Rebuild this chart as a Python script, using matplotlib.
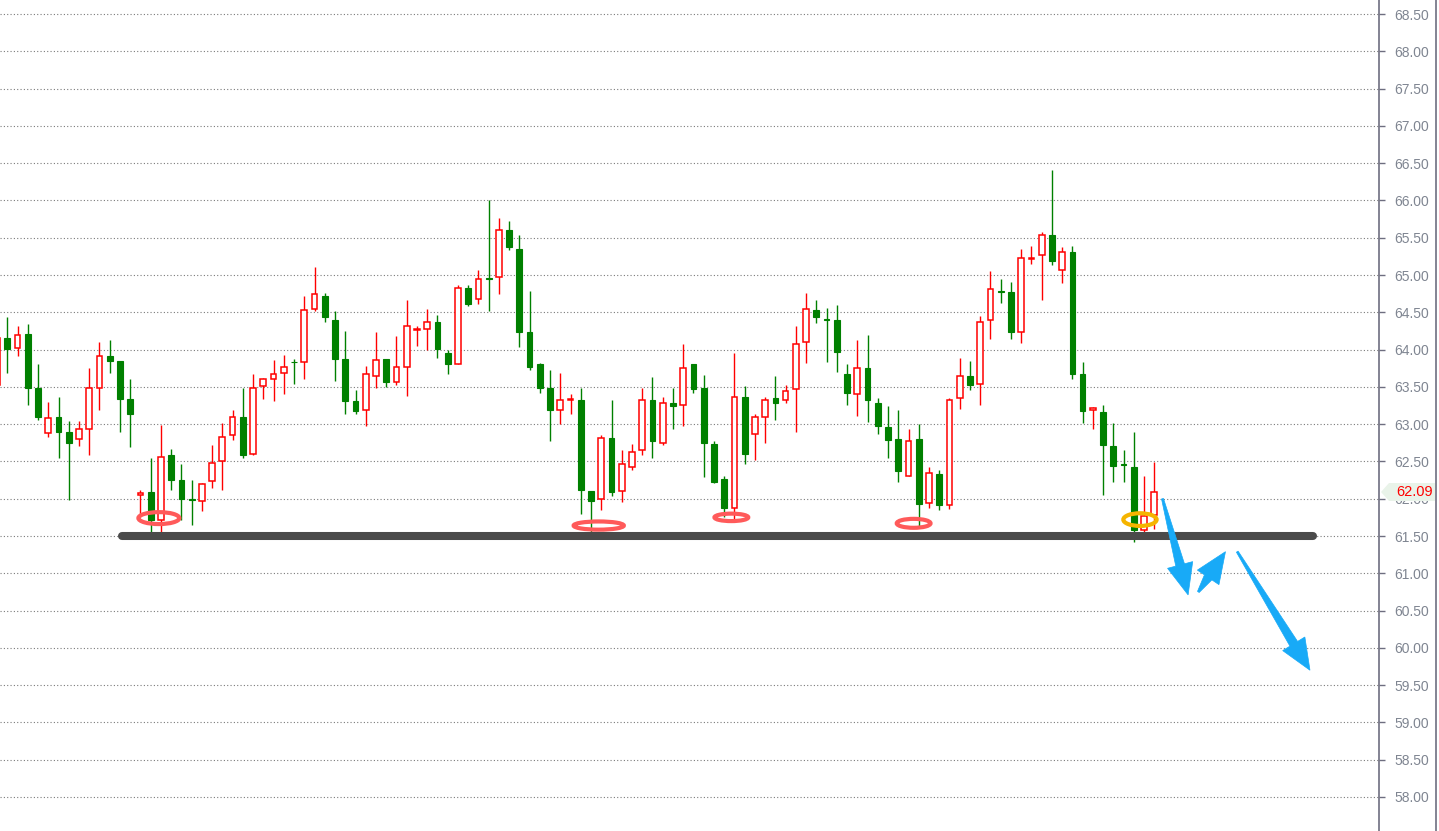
import numpy as np
import matplotlib
matplotlib.use("Agg")
import matplotlib.pyplot as plt
from matplotlib.patches import Ellipse, Polygon

# daily candles
opens = [63.52, 64.16, 64.02, 64.21, 63.49, 62.88, 63.10, 62.90, 62.80, 62.94,
         63.48, 63.91, 63.85, 63.34, 62.05, 62.09, 61.71, 62.59, 62.25, 61.99,
         61.97, 62.24, 62.50, 62.86, 63.10, 62.60, 63.51, 63.61, 63.68, 63.84,
         63.84, 64.54, 64.72, 64.40, 63.87, 63.31, 63.19, 63.65, 63.87, 63.56,
         63.76, 64.26, 64.28, 64.37, 63.96, 63.81, 64.82, 64.68, 64.96, 64.98,
         65.61, 65.35, 64.23, 63.81, 63.48, 63.19, 63.32, 63.33, 62.11, 62.00,
         62.82, 62.10, 62.43, 62.65, 63.33, 62.75, 63.29, 63.26, 63.80, 63.48,
         62.74, 62.26, 61.88, 63.36, 62.87, 63.09, 63.35, 63.32, 63.47, 64.10,
         64.53, 64.41, 64.40, 63.67, 63.41, 63.75, 63.28, 62.96, 62.80, 62.31,
         62.80, 61.94, 62.33, 61.91, 63.35, 63.64, 63.54, 64.39, 64.78, 64.77,
         64.24, 65.21, 65.27, 65.53, 65.07, 65.31, 63.67, 63.19, 63.16, 62.71,
         62.46, 62.43, 61.58, 61.78]
highs = [64.30, 64.44, 64.32, 64.34, 63.81, 63.30, 63.36, 63.04, 63.04, 63.75,
         64.10, 64.13, 63.85, 63.61, 62.12, 62.55, 62.99, 62.67, 62.47, 62.25,
         62.21, 62.72, 63.01, 63.19, 63.49, 63.67, 63.62, 63.86, 63.93, 63.87,
         64.72, 65.11, 64.76, 64.52, 64.25, 63.46, 63.78, 64.23, 63.87, 64.18,
         64.67, 64.32, 64.55, 64.47, 64.00, 64.86, 64.86, 65.07, 66.01, 65.76,
         65.72, 65.53, 64.79, 63.82, 63.72, 63.69, 63.41, 63.49, 62.11, 62.85,
         63.33, 62.65, 62.74, 63.49, 63.63, 63.37, 63.49, 64.08, 63.80, 63.66,
         62.77, 62.31, 63.96, 63.51, 63.13, 63.37, 63.65, 63.52, 64.32, 64.76,
         64.67, 64.56, 64.60, 63.81, 64.13, 64.20, 63.35, 63.25, 63.19, 62.94,
         63.00, 62.42, 62.39, 63.35, 63.89, 63.85, 64.45, 65.06, 64.94, 64.91,
         65.35, 65.39, 65.58, 66.41, 65.37, 65.39, 63.84, 63.23, 63.26, 63.02,
         62.66, 62.90, 62.31, 62.49]
lows = [63.45, 63.68, 63.91, 63.26, 63.06, 62.83, 62.55, 61.98, 62.71, 62.59,
        63.19, 63.69, 62.90, 62.69, 61.75, 61.53, 61.56, 62.12, 61.71, 61.65,
        61.84, 62.15, 62.12, 62.79, 62.54, 62.58, 63.34, 63.31, 63.40, 63.54,
        63.61, 64.52, 64.37, 63.58, 63.14, 63.14, 62.98, 63.48, 63.50, 63.52,
        63.38, 64.05, 64.00, 63.89, 63.67, 63.81, 64.59, 64.61, 64.52, 64.74,
        65.33, 64.03, 63.72, 63.42, 62.77, 63.00, 63.13, 61.80, 61.53, 61.85,
        62.04, 61.96, 62.39, 62.59, 62.55, 62.72, 62.94, 62.98, 63.42, 62.29,
        62.21, 61.76, 61.72, 62.47, 62.52, 62.75, 63.05, 63.28, 62.90, 63.82,
        64.35, 63.84, 63.70, 63.26, 63.11, 63.03, 62.87, 62.55, 62.23, 62.31,
        61.64, 61.87, 61.85, 61.86, 63.20, 63.46, 63.26, 64.14, 64.62, 64.14,
        64.09, 65.15, 64.67, 65.13, 64.89, 63.61, 63.01, 62.94, 62.05, 62.23,
        62.22, 61.42, 61.54, 61.60]
closes = [64.16, 64.01, 64.19, 63.49, 63.09, 63.08, 62.90, 62.75, 62.93, 63.49,
          63.92, 63.85, 63.34, 63.14, 62.08, 61.72, 62.56, 62.25, 62.00, 61.98,
          62.20, 62.48, 62.83, 63.09, 62.59, 63.48, 63.60, 63.67, 63.76, 63.83,
          64.53, 64.74, 64.44, 63.88, 63.31, 63.18, 63.67, 63.86, 63.56, 63.76,
          64.31, 64.28, 64.37, 64.01, 63.81, 64.82, 64.61, 64.95, 64.95, 65.61,
          65.37, 64.23, 63.76, 63.49, 63.19, 63.33, 63.34, 62.12, 61.97, 62.82,
          62.09, 62.46, 62.62, 63.32, 62.78, 63.29, 63.24, 63.75, 63.47, 62.75,
          62.23, 61.88, 63.37, 62.60, 63.09, 63.33, 63.29, 63.45, 64.08, 64.55,
          64.44, 64.40, 63.97, 63.42, 63.75, 63.32, 62.97, 62.79, 62.37, 62.78,
          61.93, 62.34, 61.92, 63.33, 63.64, 63.52, 64.37, 64.81, 64.77, 64.23,
          65.23, 65.23, 65.53, 65.19, 65.31, 63.67, 63.18, 63.21, 62.72, 62.44,
          62.45, 61.58, 61.77, 62.09]

support = 61.50
last_price = "62.09"
# hand drawn marks: (candle index, price)
red_rings = [(15.8, 61.74, 4.0, 0.16), (58.75, 61.64, 4.9, 0.11),
             (71.7, 61.75, 3.3, 0.10), (89.5, 61.67, 3.3, 0.12)]
gold_ring = (111.6, 61.72, 3.25, 0.17)
arrows = [((113.8, 62.00), (116.3, 60.71)),
          ((117.3, 60.75), (119.95, 61.29)),
          ((121.1, 61.29), (128.2, 59.70))]

W, H = 1439, 831
fig = plt.figure(figsize=(W / 100, H / 100), dpi=100)
ax = fig.add_axes([0, 0, 1379 / W, 1])

x = np.arange(len(opens))
o = np.array(opens); c = np.array(closes)
up = c >= o
cols = np.where(up, "#ff0000", "#008000")

ax.vlines(x, lows, highs, colors=cols, lw=1.0, zorder=2)
bw = 0.56
ax.bar(x[up], c[up] - o[up], bottom=o[up], width=bw, facecolor="white",
       edgecolor="#ff0000", lw=1.1, zorder=3)
ax.bar(x[~up], c[~up] - o[~up], bottom=o[~up], width=bw, facecolor="#008000",
       edgecolor="#008000", lw=0.8, zorder=3)

ax.set_xlim(0.287, 134.94)
ax.set_ylim(57.544, 68.688)

# support line
ax.plot([12.2, 128.5], [support, support], color="#4a4a4a", lw=5.8,
        solid_capstyle="round", zorder=5)

for cx, cy, w, h in red_rings:
    ax.add_patch(Ellipse((cx, cy), w, h, fill=False, ec="#ff5a5a", lw=3.0, zorder=6))
ax.add_patch(Ellipse(gold_ring[:2], gold_ring[2], gold_ring[3], fill=False,
                     ec="#f5b400", lw=3.0, zorder=6))


def blue_arrow(a, b, hl=31, hw=26, tw=9, sw=2):
    # tapered arrow shape built in pixels, then mapped back to data
    s, t = ax.transData.transform([a, b])
    d = (t - s) / np.hypot(*(t - s))
    n = np.array([-d[1], d[0]])
    base = t - d * hl
    pts = [s + n * sw / 2, base + n * tw / 2, base + n * hw / 2, t,
           base - n * hw / 2, base - n * tw / 2, s - n * sw / 2]
    pts = ax.transData.inverted().transform(pts)
    ax.add_patch(Polygon(pts, closed=True, fc="#18aaf7", ec="#18aaf7", lw=0.5, zorder=7))


for a, b in arrows:
    blue_arrow(a, b)

ax.set_yticks(np.arange(58.0, 68.51, 0.5))
ax.set_yticklabels([f"{v:.2f}" for v in np.arange(58.0, 68.51, 0.5)])
ax.set_xticks([])
ax.yaxis.tick_right()
ax.tick_params(axis="y", length=4, width=1, color="#6e6e80", pad=7,
               labelsize=10, labelcolor="#7f8591")
for lab in ax.get_yticklabels():
    lab.set_family("Liberation Sans")
for s in ["left", "top", "bottom"]:
    ax.spines[s].set_visible(False)
ax.spines["right"].set_color("#6e6e80")
ax.spines["right"].set_linewidth(1.2)
ax.grid(axis="y", color="#7a7a7a", lw=0.8, linestyle=(0, (1, 2)))
ax.set_axisbelow(True)

# right border and last price tag
fig.add_artist(plt.Line2D([1436 / W, 1436 / W], [0, 1], color="#6e6e80", lw=1.2))
pts = [(1381, 492), (1389, 483), (1435, 483), (1435, 501), (1389, 501)]
fig.add_artist(Polygon([(px / W, 1 - py / H) for px, py in pts], closed=True,
                       transform=fig.transFigure, fc="#e9f3e9", ec="none", zorder=3))
fig.text(1396 / W, 1 - 492 / H, last_price, color="#ff0000", fontsize=10.5,
         family="Liberation Sans", va="center", ha="left", zorder=4)

fig.savefig("out.png", dpi=100)
